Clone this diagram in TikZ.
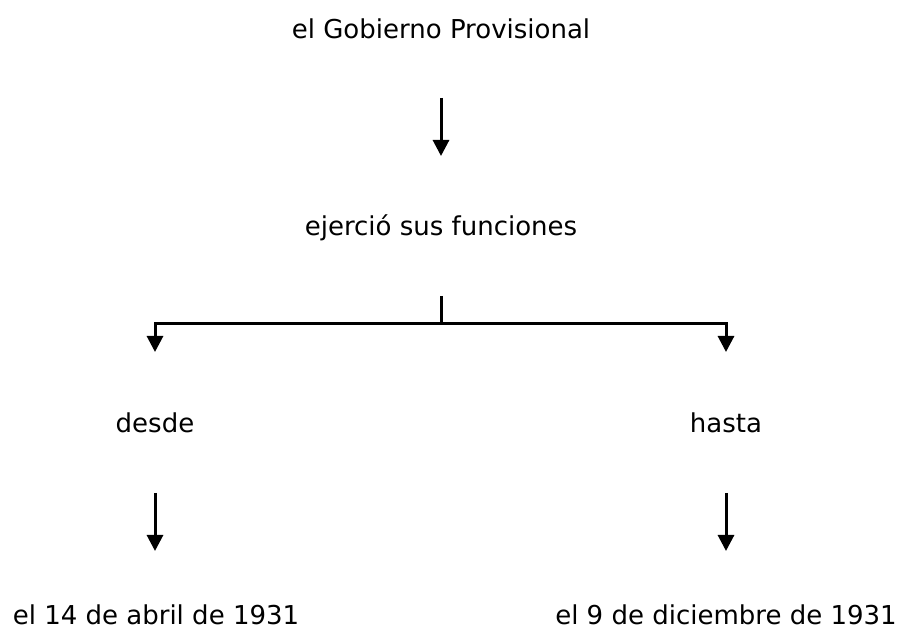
\documentclass[tikz,border=0pt]{standalone}
\usepackage{fontspec}
\setmainfont{DejaVu Sans}
\usetikzlibrary{arrows.meta,calc}
\tikzset{
  lbl/.style={anchor=base, inner sep=0pt, font=\fontsize{26}{30}\selectfont},
  conn/.style={line width=3pt, -{Triangle[width=16pt,length=16pt]}},
  plain/.style={line width=3pt}
}
\begin{document}
\begin{tikzpicture}[x=1pt,y=1pt]
\useasboundingbox (0,0) rectangle (903,631);
\node[lbl] (gob) at (441,592) {el Gobierno Provisional};
\node[lbl] (ejer) at (441,395) {ejerció sus funciones};
\node[lbl] (desde) at (155,198) {desde};
\node[lbl] (hasta) at (726,198) {hasta};
\node[lbl] (d1) at (156,6) {el 14 de abril de 1931};
\node[lbl] (d2) at (726,6) {el 9 de diciembre de 1931};
% top arrow
\draw[conn] ($(gob.base)+(0,-59)$) -- ($(ejer.base)+(0,80)$);
% bracket
\coordinate (bt) at ($(ejer.base)+(0,-60)$);
\coordinate (bm) at ($(ejer.base)+(0,-88)$);
\coordinate (bl) at (desde.base |- bm);
\coordinate (br) at (hasta.base |- bm);
\draw[plain] (bt) -- (bm);
\draw[plain, line join=miter] ($(bl)+(0,-1.5)$) -- ($(bl)+(0,0)$) -- (br) -- ($(br)+(0,-1.5)$);
\draw[conn] (bl) -- ($(desde.base)+(0,81)$);
\draw[conn] (br) -- ($(hasta.base)+(0,81)$);
% bottom arrows
\draw[conn] ($(desde.base)+(0,-60)$) -- ($(d1.base)+(-1,74)$);
\draw[conn] ($(hasta.base)+(0,-60)$) -- ($(d2.base)+(0,74)$);
\end{tikzpicture}
\end{document}
